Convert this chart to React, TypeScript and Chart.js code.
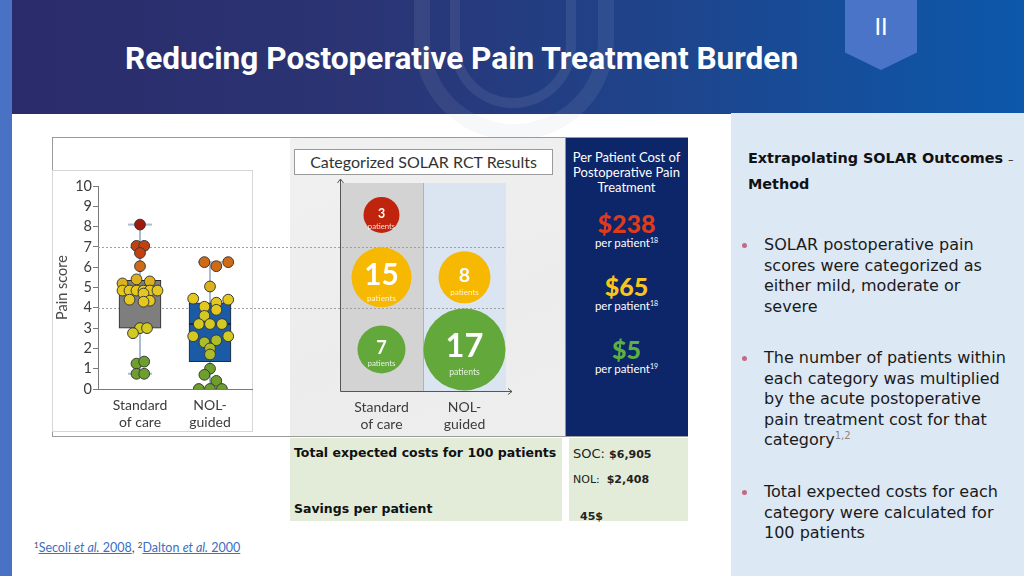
import React, { useEffect, useRef } from "react";
import { Chart, registerables } from "chart.js";
Chart.register(...registerables);

// ---------------- data ----------------
const GROUP_LABELS = [["Standard", "of care"], ["NOL-", "guided"]];
const PAIN_TICKS = [0, 1, 2, 3, 4, 5, 6, 7, 8, 9, 10];

const SOC_SCORES = [8.1, 7.05, 7.05, 6.7, 6.05, 5.4, 5.2, 5.3, 4.85, 4.85, 4.85, 4.85, 4.85, 4.85, 4.7, 4.4, 4.35, 4.3, 3.0, 3.0, 2.75, 1.25, 1.35, 0.75, 0.75];
const SOC_JITTER = [0, -0.05, 0.06, 0, 0, -0.05, -0.25, 0.14, -0.25, -0.15, -0.05, 0.05, 0.14, 0.25, 0.05, -0.15, 0.14, 0.05, 0, 0.1, -0.1, -0.05, 0.06, -0.05, 0.06];
const NOL_SCORES = [6.25, 6.25, 6.05, 5.05, 4.45, 4.4, 4.25, 4.05, 3.9, 3.6, 3.2, 3.2, 3.2, 2.6, 2.6, 2.4, 2.3, 2.0, 1.7, 1.0, 0.7, 0.4, 0, 0, 0];
const NOL_JITTER = [-0.08, 0.26, 0.09, 0, -0.24, 0.26, 0.09, -0.08, 0.09, -0.08, -0.16, 0, 0.17, -0.24, 0.26, 0.09, -0.08, 0, 0, 0, -0.08, 0.09, -0.16, 0, 0.17];

const BOX_Q1 = [3.0, 1.35];
const BOX_Q3 = [5.35, 4.25];
const BOX_MEDIAN = [4.85, 3.2];
const BOX_MIN = [0.75, 0];
const BOX_MAX = [8.1, 6.25];

const SEVERITY = ["Severe", "Moderate", "Mild"];
const SEVERITY_CUTS = [7, 4];
const SOC_COUNTS = [3, 15, 7];
const NOL_COUNTS = [0, 8, 17];
const COST_PER_PATIENT = ["$238", "$65", "$5"];
const COST_REFS = ["18", "18", "19"];

// ---------------- styles ----------------
const FONT = "'Lato', 'Open Sans', sans-serif";
const WIDE = "'DejaVu Sans', 'Lato', sans-serif";
const Y_MIN_BUBBLE = -0.1;
const Y_MAX_BUBBLE = 10.15;
const SEVERITY_COLORS = ["#c1240d", "#f6b800", "#62a83b"];
const BUBBLE_RADIUS = [[18, 30, 24], [0, 26, 41]];
const COST_COLORS = ["#de3b1c", "#f7c51c", "#5bb043"];
const BOX_FILLS = ["#7e7e7e", "#1b5ba6"];

function scoreColor(v: number) {
  if (v >= 7.5) return "#a3180c";
  if (v >= 6.6) return "#c4410f";
  if (v >= 5.9) return "#cf6b16";
  if (v >= 4.95) return "#dbb21c";
  if (v >= 3.8) return "#e4c81f";
  if (v >= 2.5) return "#d2c921";
  if (v >= 1.5) return "#adbd29";
  return "#6c9f2b";
}

const cutLinesBox = {
  id: "cutLinesBox",
  beforeDatasetsDraw(chart: any) {
    const { ctx, chartArea, scales } = chart;
    ctx.save();
    ctx.strokeStyle = "#a0a0a0";
    ctx.lineWidth = 1;
    ctx.setLineDash([2, 2]);
    SEVERITY_CUTS.forEach((c) => {
      const py = Math.round(scales.y.getPixelForValue(c)) + 0.5;
      ctx.beginPath();
      ctx.moveTo(chartArea.left, py);
      ctx.lineTo(chart.width, py);
      ctx.stroke();
    });
    ctx.restore();
  },
};

function BoxChart() {
  const ref = useRef<HTMLCanvasElement>(null);
  useEffect(() => {
    const groups = [SOC_SCORES, NOL_SCORES];
    const jit = [SOC_JITTER, NOL_JITTER];
    const datasets: any[] = [];
    [0, 1].forEach((g) => {
      datasets.push({
        type: "line",
        data: [{ x: g + 1, y: BOX_MIN[g] }, { x: g + 1, y: BOX_MAX[g] }],
        borderColor: "#a9bdd2",
        borderWidth: 2,
        pointRadius: 0,
        order: 4,
      });
    });
    datasets.push({
      type: "scatter",
      data: [0, 1].flatMap((g) => [{ x: g + 1, y: BOX_MIN[g] }, { x: g + 1, y: BOX_MAX[g] }]),
      pointStyle: "line",
      pointRadius: 12,
      pointBorderColor: "#a9bdd2",
      pointBorderWidth: 2,
      order: 4,
    });
    datasets.push({
      type: "bar",
      data: [0, 1].map((g) => ({ x: g + 1, y: [BOX_Q1[g], BOX_Q3[g]] })),
      backgroundColor: BOX_FILLS,
      borderColor: "#2b2b2b",
      borderWidth: 1,
      borderSkipped: false,
      barThickness: 42,
      order: 3,
    });
    datasets.push({
      type: "scatter",
      data: [0, 1].map((g) => ({ x: g + 1, y: BOX_MEDIAN[g] })),
      pointStyle: "line",
      pointRadius: 21,
      pointBorderColor: "#1e1e1e",
      pointBorderWidth: 1.5,
      order: 2,
    });
    groups.forEach((scores, g) => {
      datasets.push({
        type: "scatter",
        data: scores.map((s, i) => ({ x: g + 1 + jit[g][i], y: s })),
        pointRadius: 5.4,
        pointBackgroundColor: scores.map(scoreColor),
        pointBorderColor: "#3a3a3a",
        pointBorderWidth: 1,
        order: 1,
      });
    });

    const chart = new Chart(ref.current!, {
      type: "bar",
      data: { datasets },
      options: {
        animation: false,
        responsive: false,
        maintainAspectRatio: false,
        layout: { padding: { top: 48, right: 38, left: 0, bottom: 0 } },
        plugins: { legend: { display: false }, tooltip: { enabled: false } },
        scales: {
          x: {
            type: "linear",
            min: 0.4,
            max: 2.6,
            offset: false,
            grid: { display: false, drawTicks: false },
            border: { display: true, color: "#7a7a7a", width: 1 },
            afterBuildTicks: (axis: any) => {
              axis.ticks = GROUP_LABELS.map((_, i) => ({ value: i + 1 }));
            },
            afterFit: (axis: any) => {
              axis.height = 48;
            },
            ticks: {
              padding: 8,
              color: "#3c3c3c",
              font: { family: FONT, size: 14 },
              callback: (v: any) => GROUP_LABELS[Math.round(v) - 1],
              maxRotation: 0,
              autoSkip: false,
            },
          },
          y: {
            type: "linear",
            min: 0,
            max: 10,
            afterBuildTicks: (axis: any) => {
              axis.ticks = PAIN_TICKS.map((v) => ({ value: v }));
            },
            afterFit: (axis: any) => {
              axis.width = 46;
            },
            grid: { drawOnChartArea: false, drawTicks: true, tickLength: 5, tickColor: "#7a7a7a" },
            border: { display: true, color: "#7a7a7a", width: 1 },
            ticks: { padding: 1, color: "#3c3c3c", autoSkip: false, font: { family: FONT, size: 14.5, lineHeight: 1 } },
            title: { display: true, text: "Pain score", color: "#4a4a4a", font: { family: FONT, size: 14.5 }, padding: { top: 2, bottom: 0 } },
          },
        },
      } as any,
      plugins: [cutLinesBox],
    });
    return () => chart.destroy();
  }, []);
  return <canvas ref={ref} width={238} height={299} style={{ position: "absolute", left: 52, top: 138, width: 238, height: 299 }} />;
}

function rowBounds(k: number) {
  const top = k === 0 ? Y_MAX_BUBBLE : SEVERITY_CUTS[k - 1];
  const bottom = k === SEVERITY.length - 1 ? Y_MIN_BUBBLE : SEVERITY_CUTS[k];
  return [bottom, top];
}

const bubbleDecor = {
  id: "bubbleDecor",
  beforeDatasetsDraw(chart: any) {
    const { ctx, chartArea, scales } = chart;
    const { x, y } = scales;
    ctx.save();
    const colFills = ["#d3d3d3", "#dbe4f1"];
    colFills.forEach((f, g) => {
      const l = x.getPixelForValue(g);
      const r = x.getPixelForValue(g + 1);
      ctx.fillStyle = f;
      ctx.fillRect(l, chartArea.top, r - l, chartArea.bottom - chartArea.top);
    });
    ctx.strokeStyle = "#a9b3c2";
    ctx.lineWidth = 1;
    const mid = Math.round(x.getPixelForValue(1)) + 0.5;
    ctx.beginPath();
    ctx.moveTo(mid, chartArea.top);
    ctx.lineTo(mid, chartArea.bottom);
    ctx.stroke();
    ctx.strokeStyle = "#a0a0a0";
    ctx.setLineDash([2, 2]);
    SEVERITY_CUTS.forEach((c) => {
      const py = Math.round(y.getPixelForValue(c)) + 0.5;
      ctx.beginPath();
      ctx.moveTo(0, py);
      ctx.lineTo(chartArea.right, py);
      ctx.stroke();
    });
    ctx.setLineDash([]);
    ctx.strokeStyle = "#555";
    ctx.lineWidth = 1;
    const ax = Math.round(chartArea.left) + 0.5;
    const ay = Math.round(chartArea.bottom) + 0.5;
    ctx.beginPath();
    ctx.moveTo(ax, ay);
    ctx.lineTo(ax, chartArea.top - 4);
    ctx.moveTo(ax - 3, chartArea.top);
    ctx.lineTo(ax, chartArea.top - 4);
    ctx.lineTo(ax + 3, chartArea.top);
    ctx.moveTo(ax, ay);
    ctx.lineTo(chartArea.right + 6, ay);
    ctx.moveTo(chartArea.right + 2, ay - 3);
    ctx.lineTo(chartArea.right + 6, ay);
    ctx.lineTo(chartArea.right + 2, ay + 3);
    ctx.stroke();
    ctx.restore();
  },
  afterDatasetsDraw(chart: any) {
    const { ctx } = chart;
    ctx.save();
    ctx.textAlign = "center";
    ctx.textBaseline = "middle";
    chart.data.datasets.forEach((ds: any, di: number) => {
      const meta = chart.getDatasetMeta(di);
      meta.data.forEach((el: any, i: number) => {
        const d = ds.data[i];
        const fs = 8 + 1.45 * d.n;
        ctx.fillStyle = "#ffffff";
        ctx.font = `bold ${fs}px ${FONT}`;
        ctx.fillText(String(d.n), el.x, el.y - d.r * 0.07);
        ctx.fillStyle = "rgba(255,255,255,0.85)";
        ctx.font = `${7 + d.r * 0.04}px ${FONT}`;
        ctx.fillText("patients", el.x, el.y + fs * 0.55 + 4.5);
      });
    });
    ctx.restore();
  },
};

function BubbleChart() {
  const ref = useRef<HTMLCanvasElement>(null);
  useEffect(() => {
    const datasets = SEVERITY.map((sev, k) => {
      const [b, t] = rowBounds(k);
      const yc = (b + t) / 2;
      return {
        label: sev,
        data: [SOC_COUNTS[k], NOL_COUNTS[k]]
          .map((n, g) => ({ x: g + 0.5, y: yc, r: BUBBLE_RADIUS[g][k], n }))
          .filter((d) => d.n > 0),
        backgroundColor: SEVERITY_COLORS[k],
        borderWidth: 0,
        hoverRadius: 0,
        clip: false,
      };
    });
    const chart = new Chart(ref.current!, {
      type: "bubble",
      data: { datasets },
      options: {
        animation: false,
        responsive: false,
        maintainAspectRatio: false,
        layout: { padding: { top: 45, right: 59, left: 50, bottom: 0 } },
        plugins: { legend: { display: false }, tooltip: { enabled: false } },
        scales: {
          x: {
            type: "linear",
            min: 0,
            max: 2,
            offset: false,
            grid: { display: false, drawTicks: false },
            border: { display: false },
            afterBuildTicks: (axis: any) => {
              axis.ticks = GROUP_LABELS.map((_, i) => ({ value: i + 0.5 }));
            },
            afterFit: (axis: any) => {
              axis.height = 46;
            },
            ticks: {
              padding: 8,
              color: "#3c3c3c",
              font: { family: FONT, size: 14 },
              callback: (v: any) => GROUP_LABELS[Math.floor(v)],
              maxRotation: 0,
              autoSkip: false,
            },
          },
          y: { type: "linear", display: false, min: Y_MIN_BUBBLE, max: Y_MAX_BUBBLE },
        },
      } as any,
      plugins: [bubbleDecor],
    });
    return () => chart.destroy();
  }, []);
  return <canvas ref={ref} width={275} height={299} style={{ position: "absolute", left: 290, top: 138, width: 275, height: 299 }} />;
}

const abs = (s: React.CSSProperties): React.CSSProperties => ({ position: "absolute", ...s });

export default function App() {
  const bodyText: React.CSSProperties = { fontFamily: WIDE, fontSize: 16, lineHeight: "20.5px", color: "#1a1a1a" };
  const bullets = [
    { top: 235, lines: ["SOLAR postoperative pain", "scores were categorized as", "either mild, moderate or", "severe"] },
    { top: 348, lines: ["The number of patients within", "each category was multiplied", "by the acute postoperative", "pain treatment cost for that", "category"] },
    { top: 482, lines: ["Total expected costs for each", "category were calculated for", "100 patients"] },
  ];
  return (
    <div style={{ position: "fixed", left: 0, top: 0, width: 1024, height: 576, background: "#ffffff", overflow: "hidden", fontFamily: FONT }}>
      {/* header */}
      <div style={abs({ left: 0, top: 0, width: 1024, height: 114, background: "linear-gradient(90deg, #2a2b6a 0%, #2b3474 35%, #1c4790 70%, #0c58aa 100%)" })} />
      <div style={abs({ left: 414, top: -60, width: 200, height: 200, borderLeft: "16px solid rgba(255,255,255,0.07)", borderRight: "16px solid rgba(255,255,255,0.07)", borderBottom: "16px solid rgba(255,255,255,0.07)", borderRadius: "0 0 100px 100px", boxSizing: "border-box" })} />
      <div style={abs({ left: 450, top: -60, width: 126, height: 168, borderLeft: "10px solid rgba(255,255,255,0.08)", borderRight: "10px solid rgba(255,255,255,0.08)", borderBottom: "10px solid rgba(255,255,255,0.08)", borderRadius: "0 0 63px 63px", boxSizing: "border-box" })} />
      <div style={abs({ left: 414, top: 114, width: 200, height: 30, overflow: "hidden" })}>
        <div style={abs({ left: 0, top: -174, width: 200, height: 200, borderLeft: "16px solid rgba(120,130,150,0.06)", borderRight: "16px solid rgba(120,130,150,0.06)", borderBottom: "16px solid rgba(120,130,150,0.06)", borderRadius: "0 0 100px 100px", boxSizing: "border-box" })} />
      </div>
      <div style={abs({ left: 0, top: 0, width: 12, height: 576, background: "#4a72c4" })} />
      <div style={abs({ left: 125, top: 40, color: "#ffffff", fontFamily: "Roboto, sans-serif", fontWeight: 700, fontSize: 31.6, lineHeight: "38px", whiteSpace: "nowrap" })}>
        Reducing Postoperative Pain Treatment Burden
      </div>
      <div style={abs({ left: 845, top: 0, width: 72, height: 70, background: "#4a74c8", clipPath: "polygon(0 0, 100% 0, 100% 75%, 50% 100%, 0 75%)" })} />
      <div style={abs({ left: 845, top: 12, width: 72, textAlign: "center", color: "#fff", fontFamily: "Roboto, sans-serif", fontSize: 24, lineHeight: "30px" })}>II</div>

      {/* right panel */}
      <div style={abs({ left: 731, top: 113, width: 293, height: 463, background: "#dde8f5" })} />
      <div style={abs({ left: 748, top: 146, fontFamily: WIDE, fontWeight: 700, fontSize: 14.4, lineHeight: "24px", color: "#111", whiteSpace: "nowrap" })}>
        Extrapolating SOLAR Outcomes <span style={{ fontWeight: 400, fontSize: 11 }}>–</span>
        <br />
        Method
      </div>
      {bullets.map((b, i) => (
        <React.Fragment key={i}>
          <div style={abs({ left: 742, top: b.top + 8, width: 5, height: 5, borderRadius: 3, background: "#c46a82" })} />
          <div style={abs({ left: 764, top: b.top, whiteSpace: "nowrap", ...bodyText })}>
            {b.lines.map((l, j) => (
              <div key={j}>
                {l}
                {i === 1 && j === b.lines.length - 1 ? <sup style={{ fontSize: 10, color: "#888", verticalAlign: "6px", lineHeight: 0 }}>1,2</sup> : null}
              </div>
            ))}
          </div>
        </React.Fragment>
      ))}

      {/* figure */}
      <div style={abs({ left: 52, top: 137, width: 636, height: 300, border: "1px solid #9a9a9a", boxSizing: "border-box", background: "#ffffff" })} />
      <div style={abs({ left: 52, top: 170, width: 201, height: 262, border: "1px solid #d6d6d6", boxSizing: "border-box" })} />
      <div style={abs({ left: 290, top: 138, width: 275, height: 298, background: "linear-gradient(160deg, #f1f1f1 0%, #ececec 60%, #eeeeee 100%)" })} />
      <BoxChart />
      <BubbleChart />
      <div style={abs({ left: 294, top: 149, width: 259, height: 26, background: "#ffffff", border: "1px solid #9a9a9a", boxSizing: "border-box", textAlign: "center", fontFamily: FONT, fontSize: 16, lineHeight: "24px", color: "#333" })}>
        Categorized SOLAR RCT Results
      </div>
      <div style={abs({ left: 565, top: 138, width: 123, height: 298, background: "#0d2569", borderLeft: "1px solid #8a8fb0", boxSizing: "border-box" })} />
      <div style={abs({ left: 565, top: 150, width: 123, textAlign: "center", color: "#ffffff", fontFamily: FONT, fontSize: 13, lineHeight: "15px" })}>
        Per Patient Cost of
        <br />
        Postoperative Pain
        <br />
        Treatment
      </div>
      {COST_PER_PATIENT.map((c, i) => (
        <React.Fragment key={i}>
          <div style={abs({ left: 565, top: 208 + i * 63, width: 123, textAlign: "center", color: COST_COLORS[i], fontFamily: FONT, fontWeight: 900, fontSize: 25, lineHeight: "30px" })}>{c}</div>
          <div style={abs({ left: 565, top: 236 + i * 63, width: 123, textAlign: "center", color: "#ffffff", fontFamily: FONT, fontSize: 11.5, lineHeight: "14px" })}>
            per patient<sup style={{ fontSize: 7, verticalAlign: "4px", lineHeight: 0 }}>{COST_REFS[i]}</sup>
          </div>
        </React.Fragment>
      ))}

      {/* cost table */}
      <div style={abs({ left: 290, top: 438, width: 272, height: 83, background: "#e2ecd8" })} />
      <div style={abs({ left: 569, top: 438, width: 119, height: 83, background: "#e2ecd8" })} />
      <div style={abs({ left: 294, top: 444, fontFamily: WIDE, fontWeight: 700, fontSize: 12.5, lineHeight: "18px", color: "#111", whiteSpace: "nowrap" })}>Total expected costs for 100 patients</div>
      <div style={abs({ left: 294, top: 500, fontFamily: WIDE, fontWeight: 700, fontSize: 12.5, lineHeight: "18px", color: "#111", whiteSpace: "nowrap" })}>Savings per patient</div>
      <div style={abs({ left: 573, top: 445, fontFamily: WIDE, fontSize: 13, lineHeight: "18px", color: "#222", whiteSpace: "nowrap" })}>
        SOC: <span style={{ fontWeight: 700, fontSize: 11 }}>$6,905</span>
      </div>
      <div style={abs({ left: 573, top: 471, fontFamily: WIDE, fontSize: 11, lineHeight: "18px", color: "#222", whiteSpace: "nowrap" })}>
        NOL:&nbsp; <span style={{ fontWeight: 700 }}>$2,408</span>
      </div>
      <div style={abs({ left: 580, top: 508, fontFamily: WIDE, fontWeight: 700, fontSize: 11, lineHeight: "18px", color: "#222" })}>45$</div>

      {/* footnote */}
      <div style={abs({ left: 34, top: 540, fontFamily: FONT, fontSize: 12.5, lineHeight: "16px", color: "#3a6fc4", whiteSpace: "nowrap" })}>
        <sup style={{ fontSize: 8, verticalAlign: "4px", lineHeight: 0, color: "#444" }}>1</sup>
        <span style={{ textDecoration: "underline" }}>Secoli <i>et al.</i> 2008</span>
        <span style={{ color: "#444" }}>, </span>
        <sup style={{ fontSize: 8, verticalAlign: "4px", lineHeight: 0, color: "#444" }}>2</sup>
        <span style={{ textDecoration: "underline" }}>Dalton <i>et al.</i> 2000</span>
      </div>
    </div>
  );
}
